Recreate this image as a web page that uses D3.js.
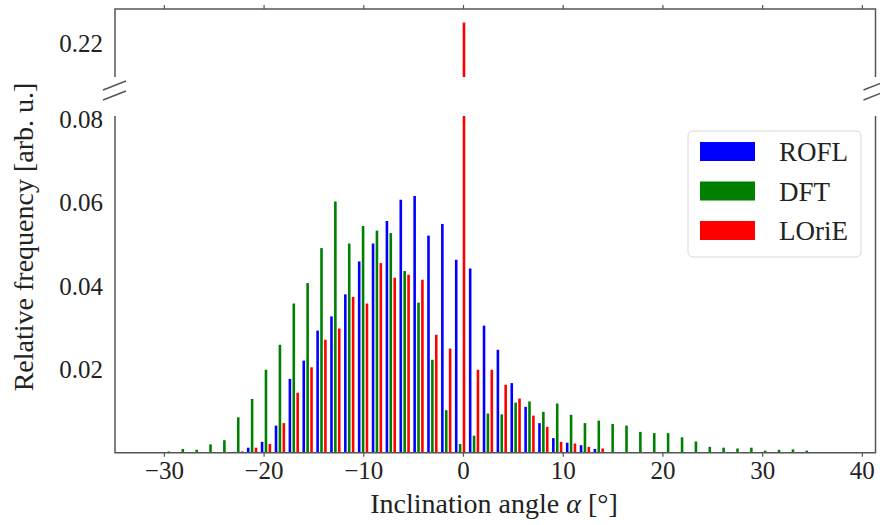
<!DOCTYPE html>
<html>
<head>
<meta charset="utf-8">
<script src="https://cdn.jsdelivr.net/npm/d3@7"></script>
<style>
  body { margin: 0; background: #fff; }
  svg text { font-family: "Liberation Serif", "DejaVu Serif", serif; fill: #222; }
</style>
</head>
<body>
<div id="chart"></div>
<script>
// histogram bin centres (degrees)
const binCenters = [-29.49, -28.10, -26.71, -25.32, -23.93, -22.54, -21.15, -19.76, -18.36, -16.97,
    -15.58, -14.19, -12.80, -11.41, -10.02, -8.63, -7.24, -5.85, -4.46, -3.07,
    -1.68, -0.29, 1.11, 2.50, 3.89, 5.28, 6.67, 8.06, 9.45, 10.84,
    12.23, 13.62, 15.01, 16.40, 17.79, 19.18, 20.57, 21.97, 23.36, 24.75,
    26.14, 27.53, 28.92, 30.31, 31.70, 33.09, 34.48];

const seriesNames = ["ROFL", "DFT", "LOriE"];
const seriesColors = ["#0000ff", "#008000", "#ff0000"];

const rofl = [0, 0, 0, 0, 0, 0.0002, 0.0012, 0.0026, 0.0065, 0.0177,
    0.0221, 0.0293, 0.0327, 0.0380, 0.0459, 0.0502, 0.0556, 0.0607, 0.0616, 0.0521,
    0.0549, 0.0463, 0.0442, 0.0305, 0.0247, 0.0167, 0.0110, 0.0071, 0.0035, 0.0024,
    0.0018, 0.0009, 0, 0, 0, 0, 0, 0, 0, 0,
    0, 0, 0, 0, 0, 0, 0];

const dft = [0.0003, 0.0009, 0.0007, 0.0020, 0.0030, 0.0085, 0.0129, 0.0199, 0.0259, 0.0358,
    0.0407, 0.0491, 0.0603, 0.0502, 0.0544, 0.0533, 0.0527, 0.0436, 0.0360, 0.0223,
    0.0102, 0.0021, 0.0041, 0.0094, 0.0092, 0.0120, 0.0123, 0.0098, 0.0118, 0.0091,
    0.0071, 0.0077, 0.0069, 0.0065, 0.0050, 0.0047, 0.0047, 0.0037, 0.0027, 0.0014,
    0.0012, 0.0010, 0.0012, 0.0005, 0.0007, 0.0008, 0.0005];

const lorie = [0, 0, 0, 0, 0, 0.0003, 0.0012, 0.0021, 0.0071, 0.0144,
    0.0205, 0.0271, 0.0298, 0.0374, 0.0358, 0.0455, 0.0420, 0.0427, 0.0415, 0.0283,
    0.0250, 0.2260, 0.0199, 0.0199, 0.0163, 0.0130, 0.0089, 0.0062, 0.0026, 0.0022,
    0.0014, 0.0010, 0, 0, 0, 0, 0, 0, 0, 0,
    0, 0, 0, 0, 0, 0, 0];

const xTicks = [-30, -20, -10, 0, 10, 20, 30, 40];
const yTicksLow = [0.02, 0.04, 0.06, 0.08];
const yTicksHigh = [0.22];

const width = 880, height = 525;
const left = 115, right = 875.5;
const topPanel = {y0: 9, y1: 77};
const lowPanel = {y0: 116, y1: 452.7};
const axisColor = "#555";

const svg = d3.select("#chart").append("svg")
    .attr("width", width)
    .attr("height", height);

const x = d3.scaleLinear().domain([-34.9, 41.37]).range([left, right]);
const yLow = d3.scaleLinear().domain([0, 0.0808]).range([lowPanel.y1, lowPanel.y0]);
const yHigh = d3.scaleLinear().domain([0.21, 0.23]).range([topPanel.y1, topPanel.y0]);

const barW = 0.26, offset = 0.39;
const series = [rofl, dft, lorie];
const offsets = [-offset, 0, offset];

// clip paths for both panels
const defs = svg.append("defs");
defs.append("clipPath").attr("id", "clipLow").append("rect")
    .attr("x", left).attr("y", lowPanel.y0).attr("width", right - left).attr("height", lowPanel.y1 - lowPanel.y0);
defs.append("clipPath").attr("id", "clipHigh").append("rect")
    .attr("x", left).attr("y", topPanel.y0).attr("width", right - left).attr("height", topPanel.y1 - topPanel.y0);

function drawBars(g, y, base) {
    series.forEach(function (vals, s) {
        g.append("g")
            .selectAll("rect")
            .data(vals.map((v, i) => ({c: binCenters[i], v: v})).filter(d => d.v > 0))
            .join("rect")
            .attr("x", d => x(d.c + offsets[s] - barW / 2))
            .attr("width", x(barW) - x(0))
            .attr("y", d => y(d.v))
            .attr("height", d => Math.max(0, y(base) - y(d.v)))
            .attr("fill", seriesColors[s]);
    });
}

drawBars(svg.append("g").attr("clip-path", "url(#clipLow)"), yLow, 0);
drawBars(svg.append("g").attr("clip-path", "url(#clipHigh)"), yHigh, 0.2);

// bottom axis
const xAxis = svg.append("g")
    .attr("transform", `translate(0,${lowPanel.y1})`)
    .call(d3.axisBottom(x).tickValues(xTicks).tickSize(4).tickPadding(5).tickFormat(d3.format("d")));
xAxis.select(".domain").remove();
xAxis.selectAll("line").attr("stroke", axisColor).attr("stroke-width", 1.2);
xAxis.selectAll("text").attr("font-size", 25).attr("fill", "#222");

// top ticks on upper panel
const xTop = svg.append("g")
    .attr("transform", `translate(0,${topPanel.y0})`)
    .call(d3.axisTop(x).tickValues(xTicks).tickSize(4).tickFormat(""));
xTop.select(".domain").remove();
xTop.selectAll("line").attr("stroke", axisColor).attr("stroke-width", 1.2);

// y axes
const yAxisLow = svg.append("g")
    .attr("transform", `translate(${left},0)`)
    .call(d3.axisLeft(yLow).tickValues(yTicksLow).tickSize(0).tickPadding(12).tickFormat(d3.format(".2f")));
yAxisLow.select(".domain").remove();
yAxisLow.selectAll("text").attr("font-size", 25).attr("fill", "#222");

const yAxisHigh = svg.append("g")
    .attr("transform", `translate(${left},0)`)
    .call(d3.axisLeft(yHigh).tickValues(yTicksHigh).tickSize(0).tickPadding(12).tickFormat(d3.format(".2f")));
yAxisHigh.select(".domain").remove();
yAxisHigh.selectAll("text").attr("font-size", 25).attr("fill", "#222");

// spines
const spines = svg.append("g").attr("stroke", axisColor).attr("stroke-width", 1.5).attr("fill", "none");
spines.append("path").attr("d", `M${left},${topPanel.y1}V${topPanel.y0}H${right}V${topPanel.y1}`);
spines.append("path").attr("d", `M${left},${lowPanel.y0}V${lowPanel.y1}H${right}V${lowPanel.y0}`);

// break marks
const brk = svg.append("g").attr("stroke", axisColor).attr("stroke-width", 1.5);
[left, right].forEach(function (px) {
    brk.append("line").attr("x1", px - 12).attr("y1", 90).attr("x2", px + 11).attr("y2", 81);
    brk.append("line").attr("x1", px - 12).attr("y1", 100).attr("x2", px + 11).attr("y2", 91);
});

// axis labels
svg.append("text")
    .attr("x", 494).attr("y", 513)
    .attr("text-anchor", "middle")
    .attr("font-size", 28)
    .html('Inclination angle <tspan font-style="italic">α</tspan> [°]');

svg.append("text")
    .attr("transform", "translate(33,237) rotate(-90)")
    .attr("text-anchor", "middle")
    .attr("font-size", 28)
    .text("Relative frequency [arb. u.]");

// legend
const legend = svg.append("g");
legend.append("rect")
    .attr("x", 688).attr("y", 131).attr("width", 173).attr("height", 126).attr("rx", 5)
    .attr("fill", "white").attr("fill-opacity", 0.8)
    .attr("stroke", "#d8d8d8");
seriesNames.forEach(function (name, i) {
    const yy = 142 + i * 39.5;
    legend.append("rect")
        .attr("x", 700).attr("y", yy).attr("width", 55).attr("height", 19)
        .attr("fill", seriesColors[i]);
    legend.append("text")
        .attr("x", 779).attr("y", yy + 19)
        .attr("font-size", 27)
        .text(name);
});
</script>
</body>
</html>
